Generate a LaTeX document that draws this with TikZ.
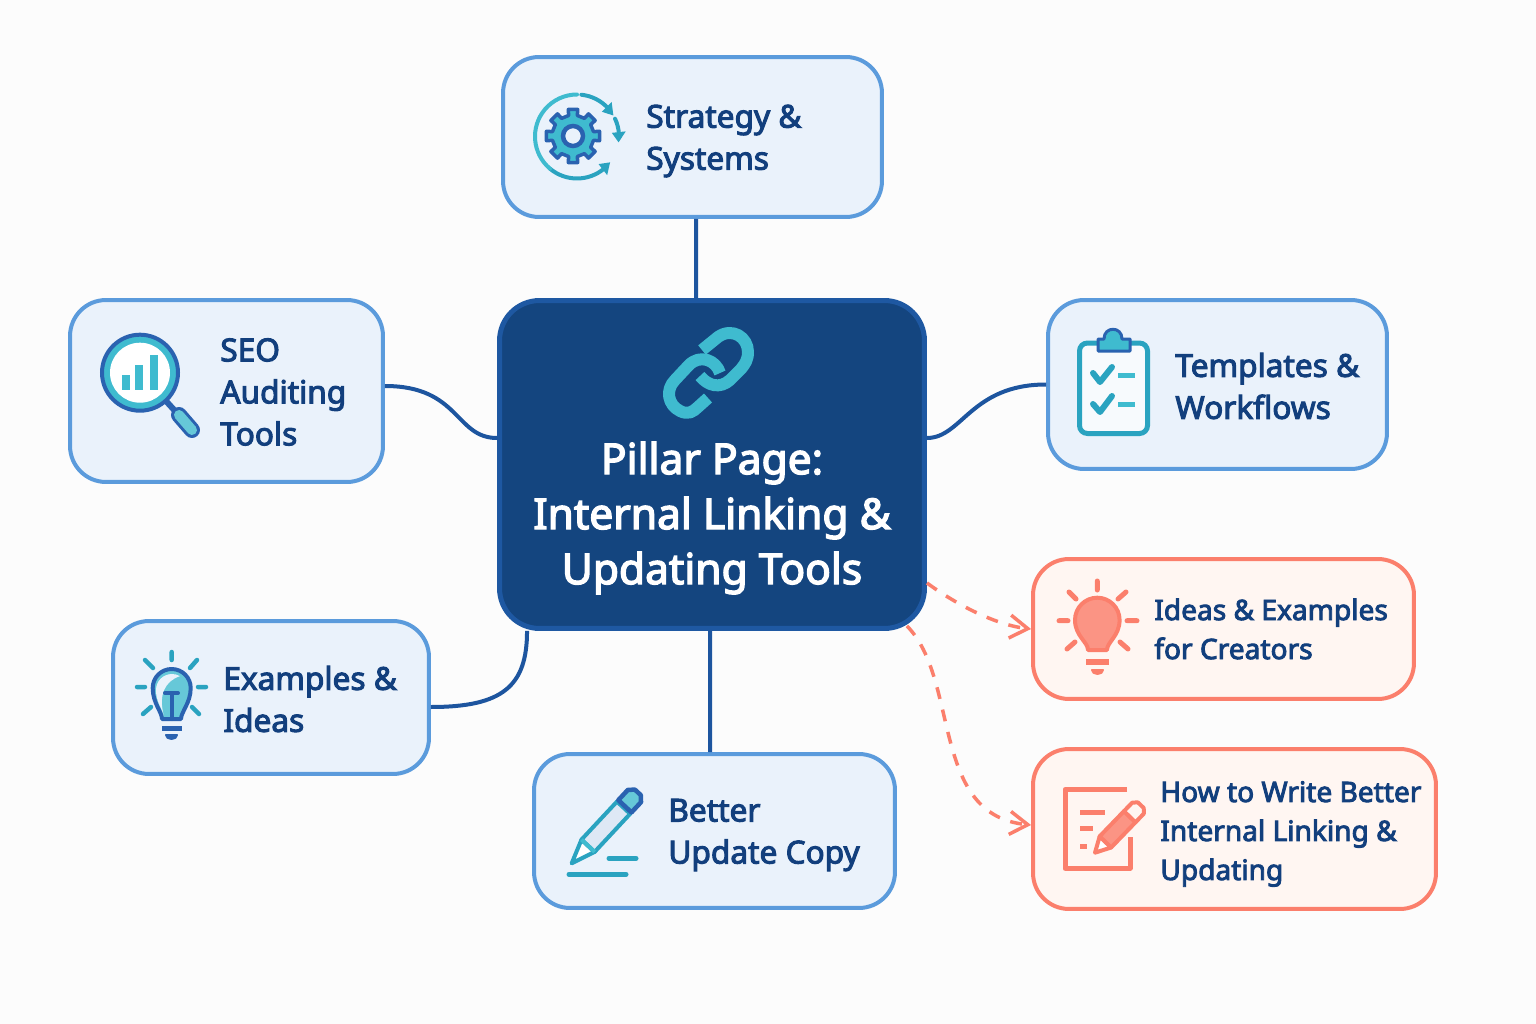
\documentclass[tikz,border=0pt]{standalone}
\usepackage{fontspec}
\setmainfont{Noto Sans}[Ligatures=NoCommon,FakeBold=3.2]
\usetikzlibrary{arrows.meta}

\definecolor{boxblue}{HTML}{EAF2FB}
\definecolor{edgeblue}{HTML}{5B9BDC}
\definecolor{boxred}{HTML}{FFF6F2}
\definecolor{edgered}{HTML}{FB7F6C}
\definecolor{fillred}{HTML}{FB9484}
\definecolor{navy}{HTML}{123F7D}
\definecolor{pillarblue}{HTML}{14457F}
\definecolor{pillaredge}{HTML}{1E58A2}
\definecolor{linkblue}{HTML}{1D559F}
\definecolor{iconblue}{HTML}{2A62B0}
\definecolor{iconteal}{HTML}{2AA3C0}
\definecolor{icontint}{HTML}{3FBBCF}
\definecolor{icontintb}{HTML}{66C8D8}

\tikzstyle{topic}=[draw=edgeblue,fill=boxblue,line width=0.08cm,rounded corners=0.72cm,rectangle]
\tikzstyle{extra}=[draw=edgered,fill=boxred,line width=0.08cm,rounded corners=0.72cm,rectangle]
\tikzstyle{pillarbox}=[draw=pillaredge,fill=pillarblue,line width=0.1cm,rounded corners=0.8cm,rectangle,minimum width=8.5cm,minimum height=6.56cm]
\tikzstyle{txt}=[anchor=west,align=left,inner sep=0pt,text=navy,font=\fontsize{18}{23.9}\selectfont]
\tikzstyle{txtsmall}=[anchor=west,align=left,inner sep=0pt,text=navy,font=\fontsize{16}{22.2}\selectfont]
\tikzstyle{txtpillar}=[align=center,inner sep=0pt,text=white,font=\fontsize{24.2}{31.3}\selectfont]
\tikzstyle{tie}=[draw=linkblue,line width=0.08cm]
\tikzstyle{dashtie}=[draw=edgered,line width=0.07cm,dash pattern=on 0.24cm off 0.22cm,-{Straight Barb[length=0.36cm,width=0.46cm]}]
\tikzstyle{ink}=[line cap=round,line join=round]

\begin{document}
\begin{tikzpicture}[x=0.02cm,y=-0.02cm]

\useasboundingbox (0,0) rectangle (1536,1024);
\fill[white!99!black] (0,0) rectangle (1536,1024);

\node[pillarbox] (pillar) at (712,464.5) {};
\node[topic,minimum width=7.58cm,minimum height=3.2cm] (strategy) at (692.5,137) {};
\node[topic,minimum width=6.26cm,minimum height=3.64cm] (seo) at (226.5,391) {};
\node[topic,minimum width=6.78cm,minimum height=3.38cm] (templates) at (1217.5,384.5) {};
\node[topic,minimum width=6.32cm,minimum height=3.06cm] (examples) at (271,697.5) {};
\node[topic,minimum width=7.22cm,minimum height=3.08cm] (better) at (714.5,831) {};
\node[extra,minimum width=7.62cm,minimum height=2.8cm] (ideas) at (1223.5,629) {};
\node[extra,minimum width=8.06cm,minimum height=3.2cm] (howto) at (1234.5,829) {};

\node[txtpillar] (pillartxt) at (712,518) {Pillar Page:\\Internal Linking \&\\Updating Tools};
\node[txt] (strategytxt) at (646,141) {Strategy \&\\Systems};
\node[txt] (seotxt) at (220,392) {SEO\\Auditing\\Tools};
\node[txt] (templatestxt) at (1175,386) {Templates \&\\Workflows};
\node[txt] (examplestxt) at (223,699) {Examples \&\\Ideas};
\node[txt] (bettertxt) at (668,835) {Better\\Update Copy};
\node[txtsmall] (ideastxt) at (1154,629) {Ideas \& Examples\\for Creators};
\node[txtsmall] (howtotxt) at (1160,834) {How to Write Better\\Internal Linking \&\\Updating};

\draw[tie] ([xshift=0.07cm]strategy.south) -- ([xshift=-0.32cm]pillar.north);
\draw[tie] ([xshift=-0.09cm]better.north) -- ([xshift=-0.04cm]pillar.south);
\draw[tie] ([yshift=0.1cm]seo.east) .. controls +(75,0) and +(-42,0) .. ([yshift=0.53cm]pillar.west);
\draw[tie] ([yshift=0.53cm]pillar.east) .. controls +(35,0) and +(-75,0) .. (templates.west);
\draw[tie] ([yshift=-0.19cm]examples.east) .. controls +(72,0) and +(0,55) .. ([xshift=-3.7cm]pillar.south);

\draw[dashtie] ([yshift=-2.37cm]pillar.east) .. controls +(30,22) and +(-35,-4) .. (ideas.west);
\draw[dashtie] ([shift={(-0.4cm,0.1cm)}]pillar.south east) .. controls (960,680) and (930,815) .. ([yshift=0.08cm]howto.west);

% link
\draw[ink,draw=icontint,line width=0.24cm,line cap=butt] (702,350) -- (718,337) .. controls (732,327) and (748,337) .. (748,352) .. controls (748,360) and (745,364) .. (741,369) -- (730,380) .. controls (720,389) and (708,386) .. (700,376);
\draw[ink,draw=icontint,line width=0.24cm,line cap=butt] (720,373) .. controls (716,360) and (700,354) .. (689,365) -- (675,380) .. controls (665,390) and (668,405) .. (680,411) .. controls (688,415) and (693,412) .. (698,407) -- (708,398);

% gear
\begin{scope}[shift={(577,136.5)}]
\draw[ink,draw=iconteal,line width=0.08cm] (-84:42) arc (-84:-42:42);
\draw[ink,draw=iconteal,line width=0.08cm] (-25:42) arc (-25:-4:42);
\draw[ink,draw=iconteal,line width=0.08cm] (50:42) arc (50:130:42);
\draw[ink,draw=icontint,line width=0.08cm] (130:42) arc (130:270:42);
\fill[iconteal] (-45:35) -- (-45:49) -- (-30:42) -- cycle;
\fill[iconteal] (-6:35) -- (-6:49) -- (8:42) -- cycle;
\fill[iconteal] (52:35) -- (52:49) -- (38:42) -- cycle;
\end{scope}
\begin{scope}[shift={(573,136)}]
\draw[ink,draw=iconblue,fill=icontint,line width=0.07cm] (-12:21) \foreach \a in {0,45,...,315}{ -- (\a-10:27) -- (\a+10:27) -- (\a+12:21) -- (\a+33:21)} -- cycle;
\draw[draw=iconblue,fill=boxblue,line width=0.09cm] (0,0) circle (10);
\end{scope}

% magnifier
\draw[ink,draw=iconblue,line width=0.12cm] (166,401) -- (176,412);
\draw[ink,draw=iconblue,line width=0.32cm] (179,415) -- (192,430);
\draw[ink,draw=icontintb,line width=0.2cm] (179,415) -- (192,430);
\draw[draw=iconblue,line width=0.08cm,fill=icontint] (140,372.7) circle (38);
\fill[white] (140,372.7) circle (30);
\fill[icontint] (121.7,375) rectangle (130,390);
\fill[icontint] (135,365) rectangle (143.3,390);
\fill[icontint] (150,355) rectangle (158.3,390);

% clipboard
\draw[draw=iconteal,fill=white!60!boxblue,line width=0.1cm,rounded corners=0.16cm] (1079.5,343) rectangle (1147.5,433.5);
\draw[ink,draw=iconblue,fill=icontint,line width=0.06cm] (1098,351) -- (1098,339) -- (1104,339) .. controls (1104,326) and (1122,326) .. (1122,339) -- (1130,339) -- (1130,351) -- cycle;
\draw[ink,draw=iconteal,line width=0.12cm] (1093,373) -- (1100,382) -- (1112,367);
\draw[ink,draw=iconteal,line width=0.12cm] (1093,404) -- (1100,412) -- (1112,396);
\draw[draw=icontint,line width=0.1cm] (1118,375.7) -- (1135,375.7);
\draw[draw=icontint,line width=0.1cm] (1118,404.3) -- (1135,404.3);

% bulb
\draw[ink,draw=iconteal,line width=0.09cm] (171.7,652) -- (171.7,660) (145,660) -- (153,668) (197,660) -- (190,668) (137,687) -- (145,687) (198,687) -- (206,687) (143,714) -- (151,707) (192,707) -- (199,714);
\draw[ink,draw=iconblue,fill=icontintb,line width=0.08cm] (162,719) .. controls (162,712) and (152.7,703) .. (152.7,688) arc (180:360:19) .. controls (190.7,703) and (181,712) .. (181,719) -- cycle;
\fill[boxblue] (156,690) arc (180:300:16) .. controls (165,681) and (158,695) .. (164,716) .. controls (162,708) and (156,702) .. (156,690) -- cycle;
\draw[ink,draw=iconblue,line width=0.08cm] (165,693) -- (178,693) (171.7,693) -- (171.7,719);
\draw[draw=iconblue,line width=0.1cm] (162,728) -- (182,728);
\draw[ink,draw=iconblue,fill=iconblue,line width=0.04cm] (166,735) arc (180:0:5.5 and 4) -- cycle;

% pencil
\begin{scope}[shift={(571.7,863.3)},rotate=47]
\draw[ink,draw=iconteal,fill=white,line width=0.08cm] (0,0) -- (24,-9) -- (24,9) -- cycle;
\draw[ink,draw=iconteal,fill=white!40!boxblue!90!iconblue,line width=0.08cm] (24,-9) -- (76,-9) -- (76,9) -- (24,9) -- cycle;
\draw[draw=icontint,line width=0.08cm] (24,-9) -- (24,9);
\draw[ink,draw=iconblue,fill=icontintb,line width=0.09cm] (78,-9) -- (92,-9) -- (97,-4) -- (97,4) -- (92,9) -- (78,9) -- cycle;
\end{scope}
\draw[ink,draw=iconteal,line width=0.1cm] (609,858.3) -- (636,858.3);
\draw[ink,draw=iconteal,line width=0.1cm] (569,874.3) -- (626,874.3);

% red bulb
\draw[ink,draw=edgered,line width=0.1cm] (1097.3,581) -- (1097.3,590) (1069,592) -- (1076,599) (1126,592) -- (1118,599) (1059,620.7) -- (1068,620.7) (1127,620.7) -- (1137,620.7) (1067,649) -- (1075,642) (1120,642) -- (1128,649);
\draw[ink,draw=edgered,fill=fillred,line width=0.08cm] (1088,650) .. controls (1088,642) and (1075,636) .. (1075,620) arc (180:360:22.3) .. controls (1119.6,636) and (1107,642) .. (1107,650) -- cycle;
\draw[draw=edgered,line width=0.11cm] (1086,662) -- (1109,662);
\draw[ink,draw=edgered,fill=edgered,line width=0.04cm] (1092,670) arc (180:0:5.5 and 4) -- cycle;

% note with red pencil
\draw[ink,draw=edgered,line width=0.1cm,line cap=butt] (1127,789.3) -- (1065,789.3) -- (1065,868.3) -- (1130,868.3) -- (1130,837);
\draw[draw=edgered,line width=0.09cm] (1080,812.7) -- (1105,812.7);
\draw[draw=edgered,line width=0.09cm] (1080,828.3) -- (1093,828.3);
\draw[draw=edgered,line width=0.09cm] (1080,846.7) -- (1087,846.7);
\begin{scope}[shift={(1095,852.7)},rotate=46]
\draw[ink,draw=boxred,fill=boxred,line width=0.2cm] (0,0) -- (14,-8) -- (62,-8) -- (62,8) -- (14,8) -- cycle;
\draw[ink,draw=edgered,fill=white,line width=0.08cm] (0,0) -- (15,-8) -- (15,8) -- cycle;
\draw[ink,draw=edgered,fill=fillred,line width=0.08cm] (15,-8) -- (50,-8) -- (50,8) -- (15,8) -- cycle;
\draw[ink,draw=edgered,fill=boxred,line width=0.08cm] (50,-8) -- (62,-8) -- (66,-4) -- (66,4) -- (62,8) -- (50,8) -- cycle;
\end{scope}

\end{tikzpicture}
\end{document}
